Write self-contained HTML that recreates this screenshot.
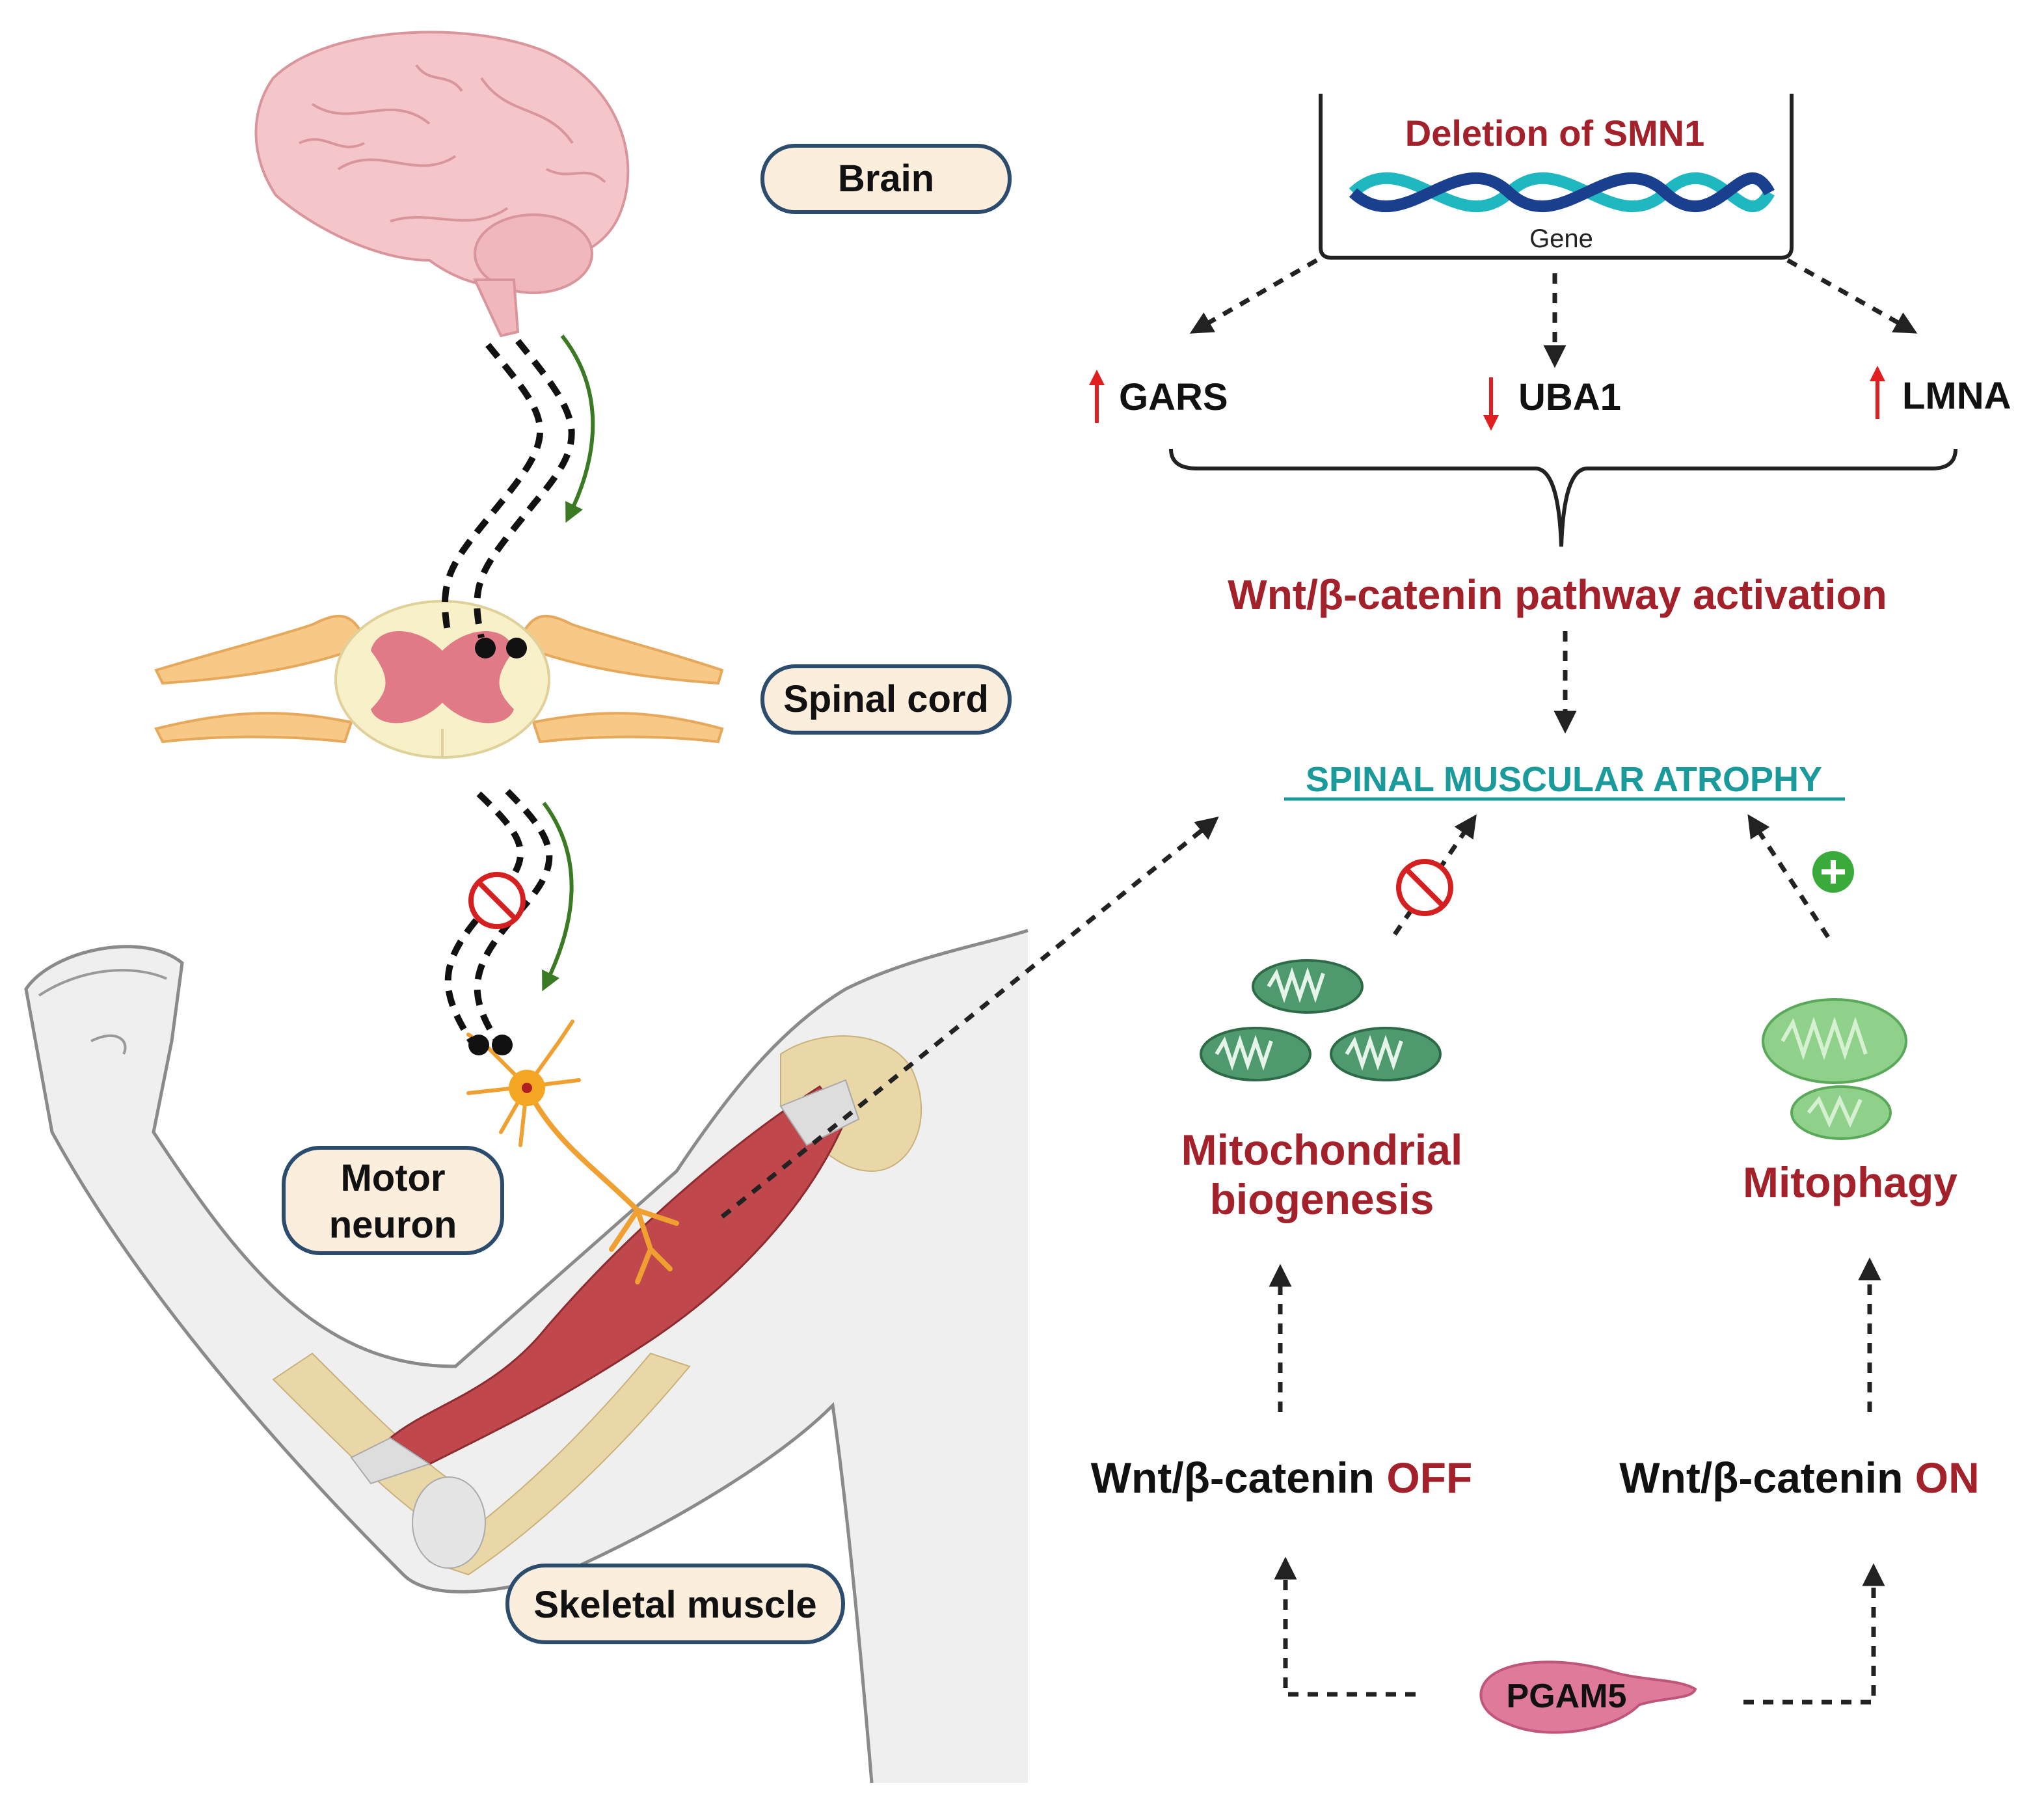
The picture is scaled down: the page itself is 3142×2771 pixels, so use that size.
<!DOCTYPE html>
<html><head><meta charset="utf-8"><style>
html,body{margin:0;padding:0;background:#fff}
svg{display:block}
text{font-family:"Liberation Sans",sans-serif;font-weight:bold}
</style></head><body>
<svg width="3142" height="2771" viewBox="0 0 1571 1385.5" xmlns="http://www.w3.org/2000/svg">
<defs>
<marker id="ah" viewBox="0 0 10 10" refX="5" refY="5" markerWidth="5" markerHeight="5" orient="auto-start-reverse"><path d="M0,0 L10,5 L0,10 z" fill="#222"/></marker>
<marker id="ag" viewBox="0 0 10 10" refX="5" refY="5" markerWidth="5" markerHeight="5" orient="auto"><path d="M0,0 L10,5 L0,10 z" fill="#3a7a22"/></marker>
<marker id="ar" viewBox="0 0 10 10" refX="5" refY="5" markerWidth="4" markerHeight="4" orient="auto"><path d="M0,0 L10,5 L0,10 z" fill="#e02020"/></marker>
</defs>
<rect width="1571" height="1386" fill="#fff"/>

<!-- ARM -->
<path d="M20,760 C40,730 110,715 140,740 L132,800 L118,870 C190,980 250,1050 350,1050 L520,900 C560,840 600,790 650,760 C700,735 760,725 790,715 L790,1370 L670,1370 C660,1250 650,1150 640,1080 C600,1120 520,1170 430,1210 C380,1225 330,1230 310,1210 C200,1100 100,980 40,870 Z" fill="#efefef" stroke="none"/>
<path d="M790,715 C760,725 700,735 650,760 C600,790 560,840 520,900 L350,1050 C250,1050 190,980 118,870 L132,800 L140,740 C110,715 40,730 20,760 L40,870 C100,980 200,1100 310,1210 C330,1230 380,1225 430,1210 C520,1170 600,1120 640,1080 C650,1150 660,1250 670,1370" fill="none" stroke="#8a8a8a" stroke-width="2.5"/>
<path d="M30,765 C60,745 100,740 128,752" fill="none" stroke="#999" stroke-width="2"/>
<path d="M70,800 C90,790 100,800 95,810" fill="none" stroke="#999" stroke-width="2"/>
<!-- bones -->
<path d="M210,1060 C260,1110 300,1150 330,1170 L350,1140 C320,1120 280,1080 240,1040 Z" fill="#ead7a8" stroke="#c9b27a"/>
<path d="M330,1200 C400,1150 450,1100 500,1040 L530,1050 C480,1110 420,1170 360,1210 Z" fill="#ead7a8" stroke="#c9b27a"/>
<ellipse cx="345" cy="1170" rx="28" ry="35" fill="#e5e5e5" stroke="#aaa"/>
<path d="M600,810 C630,790 680,790 700,820 C720,860 700,900 670,900 C640,900 620,870 600,850 Z" fill="#ead7a8" stroke="#c9b27a"/>
<!-- muscle -->
<path d="M300,1105 C330,1080 380,1070 420,1020 C480,950 560,880 630,835 L650,860 C620,930 560,990 500,1030 C440,1070 400,1090 330,1125 Z" fill="#c0474b" stroke="#8d2c30" stroke-width="1.5"/>
<path d="M600,850 L650,830 L660,860 L620,880 Z" fill="#ddd" stroke="#aaa"/>
<path d="M300,1105 L270,1120 L285,1140 L330,1125 Z" fill="#ddd" stroke="#aaa"/>

<!-- neuron -->
<g stroke="#f0a030" stroke-width="3" fill="none" stroke-linecap="round">
<path d="M405,835 L375,805 M405,835 L360,840 M405,835 L385,870 M405,835 L430,800 M405,835 L445,830 M405,835 L400,880 M375,805 L360,795 M430,800 L440,785"/>
<path d="M410,845 C430,880 460,900 490,930 L500,960 M490,930 L470,960 M490,930 L520,940 M500,960 L490,985 M500,960 L515,975" stroke-width="4"/>
</g>
<circle cx="405" cy="836" r="14" fill="#f5a623"/><circle cx="405" cy="836" r="4" fill="#b02020"/>

<!-- brain -->
<path d="M210,60 C250,20 360,15 420,40 C475,65 492,120 478,160 C468,190 440,200 420,200 C400,230 360,222 330,200 C290,200 240,175 212,150 C192,120 192,85 210,60 Z" fill="#f4c6ca" stroke="#d9959c" stroke-width="2"/>
<ellipse cx="410" cy="195" rx="45" ry="30" fill="#f0b8bd" stroke="#d9959c" stroke-width="2"/>
<path d="M365,215 L385,258 L398,255 L395,215 Z" fill="#f0b8bd" stroke="#d9959c" stroke-width="2"/>
<path d="M240,80 C270,100 300,70 330,95 M260,130 C290,110 320,140 350,120 M370,60 C390,90 420,80 440,110 M300,170 C330,160 360,180 390,160 M230,110 C250,100 260,120 280,110 M420,130 C440,140 450,125 465,140 M320,50 C330,65 345,55 355,70" fill="none" stroke="#d9959c" stroke-width="2"/>

<!-- spinal cord -->
<g fill="#f8c887" stroke="#e6a85a" stroke-width="2">
<path d="M120,515 C170,500 210,490 240,480 C260,470 270,470 280,490 L270,500 C240,510 200,520 125,525 Z"/>
<path d="M120,560 C180,545 220,545 270,555 L265,570 C220,565 170,565 125,570 Z"/>
<path d="M555,515 C510,500 470,490 440,480 C420,470 410,470 400,490 L410,500 C440,510 480,520 552,525 Z"/>
<path d="M555,560 C500,545 460,545 410,555 L415,570 C460,565 510,565 552,570 Z"/>
</g>
<ellipse cx="340" cy="522" rx="82" ry="60" fill="#f8f0c9" stroke="#e0d09a" stroke-width="2"/>
<path d="M340,500 C320,480 290,480 285,500 C300,520 300,530 285,545 C290,560 320,560 340,540 C360,560 390,560 395,545 C380,530 380,520 395,500 C390,480 360,480 340,500 Z" fill="#e07a86"/>
<line x1="340" y1="560" x2="340" y2="582" stroke="#e0d09a" stroke-width="2"/>

<!-- dashed double lines -->
<g fill="none" stroke="#111" stroke-width="5" stroke-dasharray="12,8">
<path d="M375,265 C420,320 430,330 390,380 C350,430 335,440 345,490"/>
<path d="M398,262 C445,320 455,335 412,385 C372,435 360,445 370,490"/>
<path d="M368,610 C410,650 410,660 372,700 C337,740 337,760 362,800"/>
<path d="M390,608 C432,650 432,665 395,705 C360,745 360,765 382,800"/>
</g>
<circle cx="373" cy="498" r="8" fill="#111"/><circle cx="397" cy="498" r="8" fill="#111"/>
<circle cx="368" cy="803" r="8" fill="#111"/><circle cx="386" cy="803" r="8" fill="#111"/>
<path d="M432,258 C465,300 460,350 438,395" fill="none" stroke="#3a7a22" stroke-width="3" marker-end="url(#ag)"/>
<path d="M418,617 C450,660 442,710 420,755" fill="none" stroke="#3a7a22" stroke-width="3" marker-end="url(#ag)"/>
<g stroke="#d42020" stroke-width="4" fill="#fff"><circle cx="382" cy="692" r="20"/><line x1="368" y1="678" x2="396" y2="706"/></g>

<!-- labels left -->
<g fill="#fbeedd" stroke="#2c4c6e" stroke-width="3">
<rect x="586" y="112" width="190" height="51" rx="25"/>
<rect x="586" y="512" width="190" height="51" rx="25"/>
<rect x="218" y="882" width="168" height="81" rx="28"/>
<rect x="390" y="1203" width="258" height="59" rx="29"/>
</g>
<g font-size="29" fill="#111" text-anchor="middle">
<text x="681" y="147">Brain</text>
<text x="681" y="547">Spinal cord</text>
<text x="302" y="915">Motor</text>
<text x="302" y="951">neuron</text>
<text x="519" y="1243">Skeletal muscle</text>
</g>

<!-- right top -->
<path d="M1015,72 L1015,190 Q1015,198 1023,198 L1369,198 Q1377,198 1377,190 L1377,72" fill="none" stroke="#222" stroke-width="3"/>
<text x="1195" y="112" font-size="28" fill="#a3212a" text-anchor="middle">Deletion of SMN1</text>
<path d="M1040,148 C1080,110 1120,185 1160,148 C1200,110 1240,185 1280,148 C1320,110 1340,185 1360,148" fill="none" stroke="#1fb8c0" stroke-width="9"/>
<path d="M1040,148 C1080,185 1120,110 1160,148 C1200,185 1240,110 1280,148 C1320,185 1340,110 1360,148" fill="none" stroke="#1a3f8f" stroke-width="9"/>
<text x="1200" y="190" font-size="20" style="font-weight:normal" fill="#222" text-anchor="middle">Gene</text>
<g stroke="#222" stroke-width="3.5" stroke-dasharray="8,7" fill="none" marker-end="url(#ah)">
<line x1="1012" y1="200" x2="922" y2="252"/>
<line x1="1195" y1="210" x2="1195" y2="274"/>
<line x1="1374" y1="200" x2="1466" y2="252"/>
<line x1="1203" y1="485" x2="1203" y2="555"/>
<line x1="555" y1="935" x2="930" y2="633"/>
<line x1="1072" y1="718" x2="1130" y2="633"/>
<line x1="1405" y1="720" x2="1348" y2="633"/>
<line x1="984" y1="1085" x2="984" y2="980"/>
<line x1="1437" y1="1085" x2="1437" y2="975"/>
<polyline points="1088,1302 988,1302 988,1205"/>
<polyline points="1340,1308 1440,1308 1440,1210"/>
</g>
<g stroke="#e02020" stroke-width="3" marker-end="url(#ar)">
<line x1="843" y1="325" x2="843" y2="290"/>
<line x1="1146" y1="290" x2="1146" y2="325"/>
<line x1="1443" y1="322" x2="1443" y2="287"/>
</g>
<g font-size="29" fill="#111">
<text x="860" y="315">GARS</text>
<text x="1167" y="315">UBA1</text>
<text x="1462" y="314">LMNA</text>
</g>
<path d="M900,345 Q900,360 920,360 L1180,360 Q1198,360 1200,420 Q1202,360 1220,360 L1485,360 Q1503,360 1503,345" fill="none" stroke="#222" stroke-width="3"/>
<text x="1197" y="468" font-size="32" fill="#a3212a" text-anchor="middle">Wnt/β-catenin pathway activation</text>
<text x="1202" y="608" font-size="27" fill="#1a9a9a" text-anchor="middle">SPINAL MUSCULAR ATROPHY</text>
<line x1="987" y1="614" x2="1418" y2="614" stroke="#1a9a9a" stroke-width="2.5"/>
<g stroke="#d42020" stroke-width="4" fill="#fff"><circle cx="1095" cy="682" r="20"/><line x1="1081" y1="668" x2="1109" y2="696"/></g>
<circle cx="1409" cy="670" r="16" fill="#3aaa3a"/>
<path d="M1409,661 V679 M1400,670 H1418" stroke="#fff" stroke-width="4"/>

<!-- mitochondria -->
<g fill="#4e9a6e" stroke="#2d6a46" stroke-width="2">
<ellipse cx="1005" cy="758" rx="42" ry="20"/>
<ellipse cx="965" cy="810" rx="42" ry="20"/>
<ellipse cx="1065" cy="810" rx="42" ry="20"/>
</g>
<g fill="none" stroke="#e6f5ea" stroke-width="3">
<path d="M975,758 l6,-10 l6,18 l6,-18 l6,18 l6,-18 l6,18 l6,-18"/>
<path d="M935,810 l6,-10 l6,18 l6,-18 l6,18 l6,-18 l6,18 l6,-18"/>
<path d="M1035,810 l6,-10 l6,18 l6,-18 l6,18 l6,-18 l6,18 l6,-18"/>
</g>
<ellipse cx="1410" cy="800" rx="55" ry="32" fill="#8fd08a" stroke="#5aa85a" stroke-width="2"/>
<ellipse cx="1415" cy="855" rx="38" ry="20" fill="#8fd08a" stroke="#5aa85a" stroke-width="2"/>
<path d="M1370,800 l8,-14 l8,24 l8,-24 l8,24 l8,-24 l8,24 l8,-24 l8,24 M1390,855 l8,-10 l8,18 l8,-18 l8,18 l8,-18" fill="none" stroke="#d6f0d2" stroke-width="3"/>
<text x="1016" y="895" font-size="33" fill="#a3212a" text-anchor="middle">Mitochondrial</text>
<text x="1016" y="933" font-size="33" fill="#a3212a" text-anchor="middle">biogenesis</text>
<text x="1422" y="920" font-size="33" fill="#a3212a" text-anchor="middle">Mitophagy</text>
<text x="985" y="1147" font-size="33" fill="#111" text-anchor="middle">Wnt/β-catenin <tspan fill="#a3212a">OFF</tspan></text>
<text x="1383" y="1147" font-size="33" fill="#111" text-anchor="middle">Wnt/β-catenin <tspan fill="#a3212a">ON</tspan></text>

<!-- PGAM5 -->
<path d="M1140,1295 C1150,1275 1200,1272 1240,1285 C1265,1292 1290,1290 1303,1298 C1300,1306 1280,1304 1260,1310 C1240,1330 1190,1338 1160,1325 C1140,1318 1135,1305 1140,1295 Z" fill="#e07a9a" stroke="#c0557a" stroke-width="2"/>
<text x="1204" y="1312" font-size="26" fill="#111" text-anchor="middle">PGAM5</text>
</svg>
</body></html>
